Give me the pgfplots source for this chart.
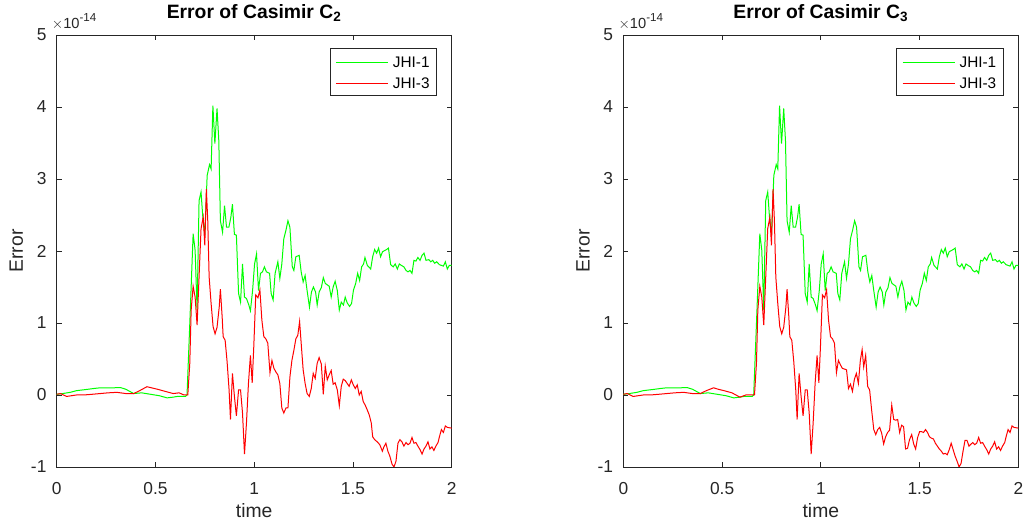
\documentclass[border=0pt]{standalone}
\usepackage{pgfplots}
\usepackage{pgfplotstable}
\pgfplotsset{compat=1.18}
\usepackage{fontspec}
\setmainfont{Liberation Sans}

\definecolor{mgreen}{rgb}{0,1,0}
\definecolor{mred}{rgb}{1,0,0}
\definecolor{axgray}{rgb}{0.15,0.15,0.15}

% JHI-1 (same in both panels)
\pgfplotstableread{
t v
0 0.01
0.03 0.02
0.069 0.037
0.1 0.06
0.13 0.07
0.16 0.08
0.187 0.09
0.22 0.1
0.25 0.1
0.29 0.1
0.322 0.104
0.35 0.08
0.39 0.02
0.43 0.03
0.475 0.01
0.52 -0.01
0.559 -0.04
0.59 -0.03
0.61 -0.02
0.652 -0.02
0.660 0.0
0.674 0.99
0.691 2.24
0.701 2.01
0.711 1.18
0.721 2.70
0.731 2.82
0.740 2.47
0.750 2.22
0.762 3.05
0.774 3.20
0.782 3.14
0.791 4.02
0.801 3.49
0.812 3.98
0.821 3.53
0.829 2.42
0.840 2.26
0.850 2.63
0.860 2.33
0.872 2.33
0.882 2.47
0.890 2.65
0.900 2.23
0.910 2.22
0.921 1.41
0.931 1.29
0.941 1.82
0.951 1.36
0.961 1.34
0.973 1.25
0.981 1.17
0.992 1.45
1.002 1.82
1.012 1.96
1.022 1.45
1.032 1.69
1.042 1.71
1.052 1.78
1.062 1.71
1.078 1.69
1.086 1.41
1.096 1.32
1.106 1.69
1.120 1.85
1.130 1.62
1.140 1.82
1.150 2.17
1.161 2.29
1.171 2.42
1.181 2.33
1.193 1.78
1.201 1.73
1.211 1.92
1.228 1.94
1.238 1.71
1.248 1.57
1.258 1.66
1.268 1.45
1.280 1.22
1.290 1.43
1.300 1.50
1.311 1.43
1.319 1.25
1.329 1.43
1.340 1.49
1.350 1.63
1.360 1.55
1.370 1.53
1.380 1.51
1.390 1.36
1.400 1.50
1.410 1.58
1.421 1.45
1.431 1.18
1.441 1.29
1.452 1.25
1.461 1.36
1.471 1.28
1.483 1.23
1.493 1.27
1.503 1.46
1.514 1.55
1.524 1.69
1.534 1.59
1.544 1.78
1.554 1.82
1.561 1.91
1.573 1.80
1.590 1.75
1.600 1.92
1.610 2.02
1.620 1.97
1.630 2.04
1.640 1.92
1.650 1.99
1.670 2.02
1.680 2.04
1.691 1.81
1.704 1.78
1.714 1.82
1.725 1.75
1.735 1.82
1.745 1.80
1.758 1.78
1.769 1.73
1.779 1.71
1.789 1.73
1.799 1.69
1.809 1.87
1.819 1.86
1.829 1.91
1.840 1.87
1.850 1.94
1.860 1.97
1.870 1.87
1.884 1.88
1.894 1.85
1.904 1.87
1.914 1.83
1.924 1.85
1.938 1.81
1.948 1.80
1.958 1.79
1.968 1.85
1.978 1.75
1.988 1.80
2.000 1.80
}\jhione

% JHI-3, left panel (C2)
\pgfplotstableread{
t v
0 0.01
0.02 0.02
0.05 -0.02
0.1 0.0
0.136 0.0
0.18 0.01
0.22 0.02
0.26 0.03
0.305 0.037
0.35 0.02
0.39 0.02
0.42 0.06
0.457 0.115
0.48 0.1
0.51 0.08
0.55 0.05
0.59 0.02
0.62 0.03
0.645 0.0
0.664 0.0
0.674 0.44
0.681 1.18
0.691 1.51
0.701 1.36
0.711 0.97
0.721 1.64
0.731 2.31
0.742 2.47
0.750 2.08
0.758 2.86
0.765 2.42
0.772 1.64
0.782 1.27
0.792 0.95
0.802 0.85
0.812 0.94
0.823 1.22
0.829 1.47
0.838 1.08
0.843 0.81
0.853 0.76
0.863 0.46
0.873 0.07
0.880 -0.34
0.890 0.30
0.900 -0.02
0.910 -0.29
0.921 0.07
0.931 0.07
0.941 -0.25
0.951 -0.82
0.961 -0.39
0.971 0.16
0.981 0.55
0.990 0.17
0.998 0.67
1.008 1.39
1.019 1.35
1.029 1.46
1.039 1.04
1.049 0.81
1.059 0.78
1.069 0.72
1.080 0.31
1.090 0.48
1.100 0.37
1.110 0.32
1.120 0.28
1.130 0.16
1.140 -0.18
1.150 -0.25
1.161 -0.18
1.171 -0.18
1.181 0.25
1.191 0.48
1.201 0.62
1.211 0.78
1.221 0.83
1.230 1.02
1.238 0.72
1.248 0.35
1.258 0.16
1.268 0.02
1.279 -0.02
1.289 0.09
1.299 0.30
1.309 0.23
1.319 0.44
1.329 0.52
1.340 0.43
1.350 0.01
1.360 0.40
1.370 0.21
1.380 0.28
1.390 0.34
1.400 0.15
1.410 0.17
1.421 0.07
1.431 -0.15
1.441 0.12
1.451 0.22
1.461 0.20
1.471 0.16
1.481 0.12
1.492 0.21
1.502 0.14
1.512 0.09
1.522 0.14
1.532 0.0
1.542 0.05
1.552 -0.09
1.562 -0.14
1.573 -0.21
1.583 -0.28
1.593 -0.39
1.600 -0.58
1.610 -0.62
1.623 -0.65
1.636 -0.69
1.649 -0.78
1.657 -0.72
1.667 -0.67
1.677 -0.78
1.687 -0.85
1.698 -0.96
1.708 -1.00
1.718 -0.92
1.728 -0.67
1.738 -0.62
1.748 -0.65
1.758 -0.71
1.769 -0.66
1.779 -0.69
1.789 -0.67
1.799 -0.59
1.809 -0.67
1.819 -0.66
1.829 -0.71
1.840 -0.76
1.850 -0.82
1.860 -0.75
1.870 -0.71
1.880 -0.65
1.890 -0.75
1.900 -0.72
1.910 -0.77
1.920 -0.71
1.931 -0.66
1.938 -0.58
1.948 -0.48
1.958 -0.52
1.968 -0.43
1.978 -0.45
2.000 -0.46
}\jhithreeL

% JHI-3, right panel (C3)
\pgfplotstableread{
t v
0 0.01
0.02 0.02
0.05 -0.02
0.1 0.0
0.136 0.0
0.18 0.01
0.22 0.02
0.26 0.03
0.305 0.037
0.35 0.02
0.39 0.02
0.42 0.06
0.457 0.1
0.48 0.08
0.51 0.06
0.55 0.03
0.59 -0.03
0.62 0.0
0.645 0.0
0.664 0.0
0.674 0.44
0.681 1.18
0.691 1.51
0.701 1.36
0.711 0.97
0.721 1.64
0.731 2.31
0.742 2.47
0.750 2.08
0.758 2.86
0.765 2.42
0.772 1.64
0.782 1.27
0.792 0.95
0.802 0.85
0.812 0.94
0.823 1.22
0.829 1.47
0.838 1.08
0.843 0.81
0.853 0.76
0.863 0.46
0.873 0.07
0.880 -0.34
0.890 0.30
0.900 -0.02
0.910 -0.29
0.921 0.07
0.931 0.07
0.941 -0.25
0.951 -0.82
0.961 -0.39
0.971 0.16
0.981 0.55
0.990 0.17
0.998 0.67
1.008 1.39
1.019 1.35
1.029 1.46
1.039 1.04
1.049 0.81
1.059 0.78
1.069 0.72
1.079 0.31
1.089 0.48
1.099 0.42
1.109 0.37
1.120 0.36
1.130 0.35
1.140 0.09
1.150 0.15
1.160 0.05
1.170 0.22
1.180 0.30
1.190 0.16
1.200 0.48
1.209 0.63
1.217 0.39
1.227 0.55
1.237 0.12
1.247 0.07
1.258 -0.23
1.268 -0.48
1.278 -0.55
1.288 -0.48
1.298 -0.45
1.308 -0.53
1.318 -0.68
1.328 -0.58
1.338 -0.52
1.348 -0.49
1.359 -0.14
1.369 -0.34
1.379 -0.35
1.389 -0.34
1.399 -0.52
1.409 -0.42
1.419 -0.44
1.429 -0.75
1.439 -0.74
1.449 -0.62
1.460 -0.55
1.470 -0.68
1.480 -0.75
1.490 -0.59
1.500 -0.51
1.510 -0.51
1.520 -0.52
1.530 -0.48
1.540 -0.52
1.550 -0.58
1.560 -0.60
1.570 -0.61
1.580 -0.67
1.590 -0.71
1.600 -0.75
1.610 -0.78
1.620 -0.82
1.630 -0.81
1.640 -0.83
1.650 -0.76
1.660 -0.67
1.670 -0.76
1.680 -0.85
1.690 -0.92
1.700 -1.00
1.710 -0.95
1.720 -0.78
1.730 -0.63
1.740 -0.63
1.750 -0.71
1.769 -0.66
1.779 -0.69
1.789 -0.67
1.799 -0.59
1.809 -0.67
1.819 -0.66
1.829 -0.71
1.840 -0.76
1.850 -0.82
1.860 -0.75
1.870 -0.71
1.880 -0.65
1.890 -0.75
1.900 -0.72
1.910 -0.77
1.920 -0.71
1.931 -0.66
1.938 -0.58
1.948 -0.48
1.958 -0.52
1.968 -0.43
1.978 -0.45
2.000 -0.46
}\jhithreeR

\pgfplotsset{
  casimir/.style={
    scale only axis,
    width=296.25pt, height=324pt,
    anchor=south west,
    xmin=0, xmax=2, ymin=-1, ymax=5,
    xtick={0,0.5,1,1.5,2},
    ytick={-1,0,1,2,3,4,5},
    clip mode=individual,
    axis line style={axgray, line width=0.6pt},
    tick style={axgray, line width=0.6pt},
    tick align=inside,
    major tick length=3.75pt,
    /pgf/number format/assume math mode=true,
    ticklabel style={font=\fontsize{13}{15}\selectfont, text=axgray},
    yticklabel style={inner sep=0pt, xshift=-7.5pt},
    xticklabel style={inner sep=0pt, yshift=-11.25pt},
    xlabel={time},
    xlabel style={font=\fontsize{14.5}{16}\selectfont, text=axgray,
      at={(axis description cs:0.5,-0.118)}, anchor=base},
    title style={font=\fontsize{14.5}{16}\selectfont\bfseries,
      at={(axis description cs:0.5,1)}, anchor=base, yshift=6.5pt},
    every axis plot/.append style={line width=0.75pt},
  },
}
\tikzset{
  yerr/.style={rotate=90, anchor=base, inner sep=0pt,
    font=\fontsize{14.5}{16}\selectfont, text=axgray},
  expo/.style={anchor=base west, inner sep=0pt,
    font=\fontsize{11}{12}\selectfont, text=axgray},
  legframe/.style={draw=axgray, fill=white, line width=0.6pt},
  legtext/.style={anchor=base west, inner sep=0pt, font=\fontsize{11.5}{13}\selectfont},
}
\newcommand{\expolabel}{$\times$10\raisebox{5.8pt}{\fontsize{8.7}{10}\selectfont -14}}
% legend box with two line samples, in the axis' relative coordinates
\newcommand{\jhilegend}{%
  \draw[legframe] (rel axis cs:0.692,0.861) rectangle (rel axis cs:0.962,0.969);
  \draw[mgreen, line width=0.75pt] (rel axis cs:0.7071,0.9359) -- (rel axis cs:0.8395,0.9359);
  \draw[mred, line width=0.75pt] (rel axis cs:0.7071,0.8882) -- (rel axis cs:0.8395,0.8882);
  \node[legtext] at (rel axis cs:0.8506,0.9243) {JHI-1};
  \node[legtext] at (rel axis cs:0.8506,0.8766) {JHI-3};
}

\begin{document}
\begin{tikzpicture}
\useasboundingbox (0,0) rectangle (767.25pt,395.25pt);

\begin{axis}[casimir, at={(42.5pt,45pt)}, title={Error of Casimir C$_{\mathbf{2}}$}]
\addplot[draw=mgreen] table[x=t, y=v] {\jhione};
\addplot[draw=mred] table[x=t, y=v] {\jhithreeL};
\jhilegend
\node[yerr] at (rel axis cs:-0.0853,0.5) {Error};
\node[expo] at (rel axis cs:0,1) [xshift=-3.75pt, yshift=4.5pt] {\expolabel};
\end{axis}

\begin{axis}[casimir, at={(467.5pt,45pt)}, title={Error of Casimir C$_{\mathbf{3}}$}]
\addplot[draw=mgreen] table[x=t, y=v] {\jhione};
\addplot[draw=mred] table[x=t, y=v] {\jhithreeR};
\jhilegend
\node[yerr] at (rel axis cs:-0.0853,0.5) {Error};
\node[expo] at (rel axis cs:0,1) [xshift=-3.75pt, yshift=4.5pt] {\expolabel};
\end{axis}
\end{tikzpicture}
\end{document}
